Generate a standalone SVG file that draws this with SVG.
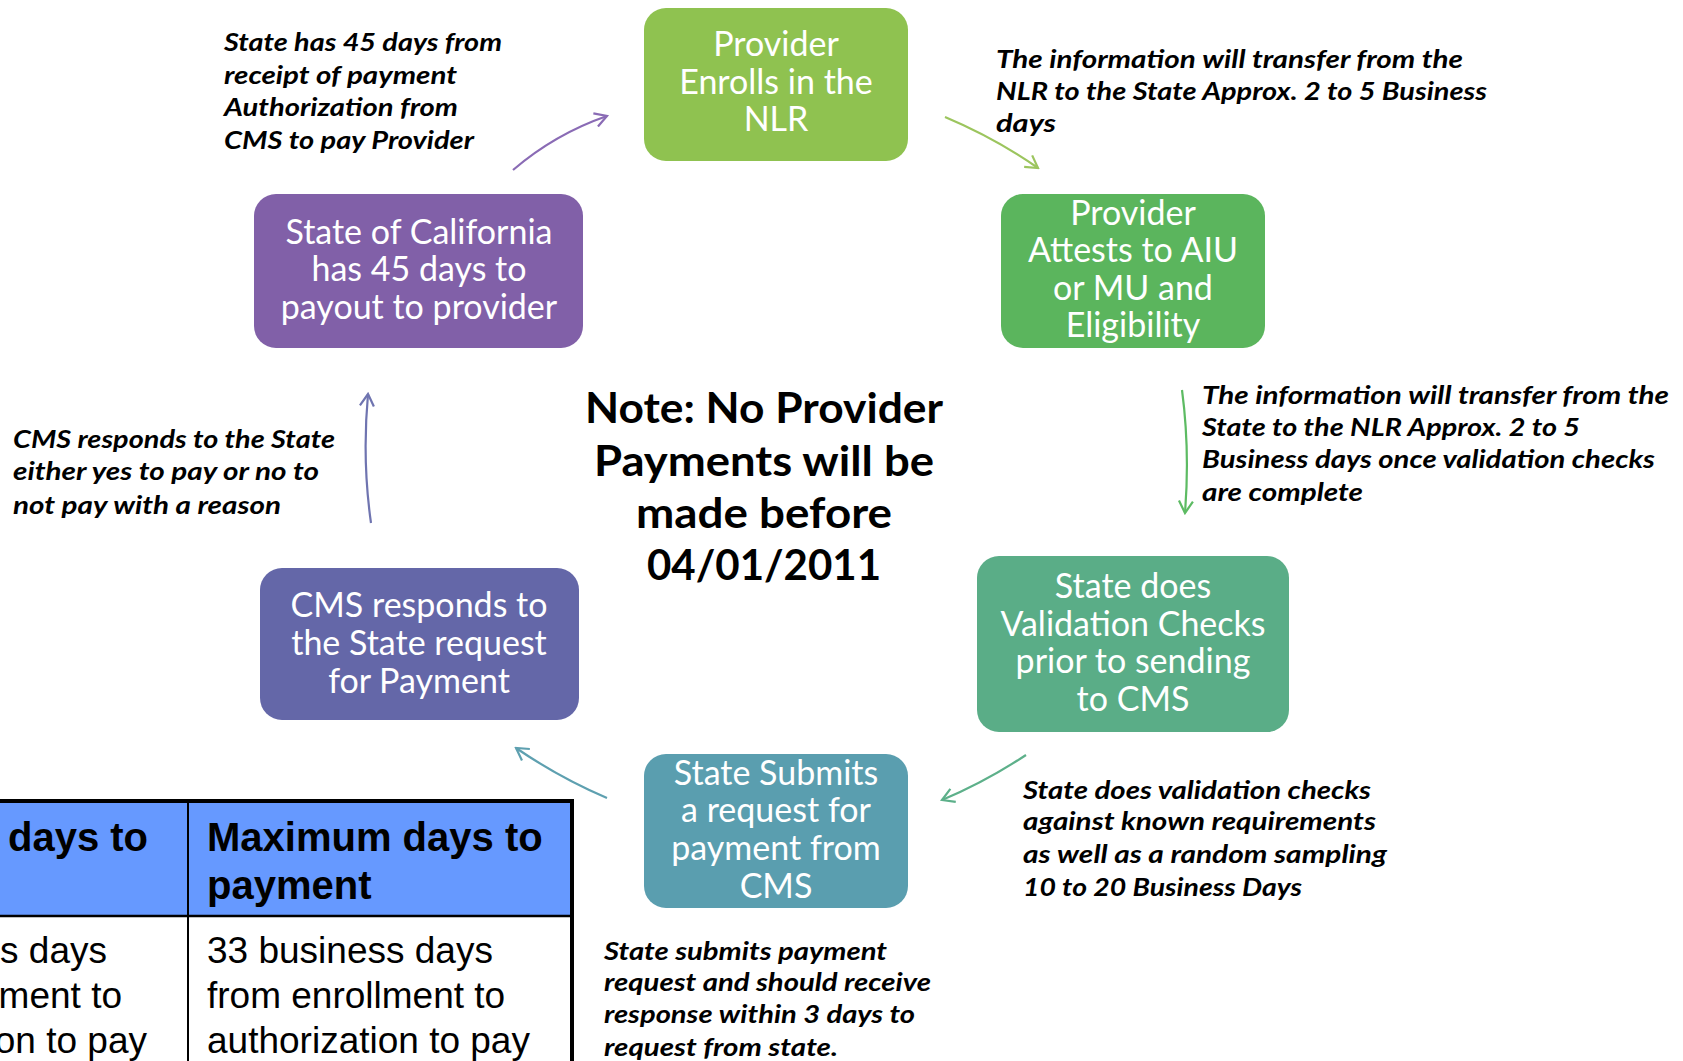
<svg xmlns="http://www.w3.org/2000/svg" width="1683" height="1061" viewBox="0 0 1683 1061">
  <style>
    .node-text { font-family: Lato, "Open Sans", sans-serif; font-size: 34px; fill: #ffffff; text-anchor: middle; }
    .note { font-family: Lato, "Open Sans", sans-serif; font-size: 42px; font-weight: bold; fill: #000000; text-anchor: middle; }
    .ann { font-family: Lato, "Open Sans", sans-serif; font-size: 25px; font-weight: bold; font-style: italic; fill: #000000; }
    .th { font-family: "Liberation Sans", Arial, sans-serif; font-size: 40px; font-weight: bold; fill: #000000; }
    .td { font-family: "Liberation Sans", Arial, sans-serif; font-size: 37px; fill: #000000; }
    .conn { fill: none; stroke-width: 2.2; }
  </style>
  <defs>
    <marker id="ah-purple" markerWidth="16" markerHeight="16" refX="14" refY="8" orient="auto" markerUnits="userSpaceOnUse">
      <path d="M2,1 L14,8 L2,15" fill="none" stroke="#8a6bb5" stroke-width="2.2"/>
    </marker>
    <marker id="ah-lime" markerWidth="16" markerHeight="16" refX="14" refY="8" orient="auto" markerUnits="userSpaceOnUse">
      <path d="M2,1 L14,8 L2,15" fill="none" stroke="#9cc55e" stroke-width="2.2"/>
    </marker>
    <marker id="ah-green" markerWidth="16" markerHeight="16" refX="14" refY="8" orient="auto" markerUnits="userSpaceOnUse">
      <path d="M2,1 L14,8 L2,15" fill="none" stroke="#5dbb63" stroke-width="2.2"/>
    </marker>
    <marker id="ah-seafoam" markerWidth="16" markerHeight="16" refX="14" refY="8" orient="auto" markerUnits="userSpaceOnUse">
      <path d="M2,1 L14,8 L2,15" fill="none" stroke="#5db08a" stroke-width="2.2"/>
    </marker>
    <marker id="ah-teal" markerWidth="16" markerHeight="16" refX="14" refY="8" orient="auto" markerUnits="userSpaceOnUse">
      <path d="M2,1 L14,8 L2,15" fill="none" stroke="#5ea0b0" stroke-width="2.2"/>
    </marker>
    <marker id="ah-indigo" markerWidth="16" markerHeight="16" refX="14" refY="8" orient="auto" markerUnits="userSpaceOnUse">
      <path d="M2,1 L14,8 L2,15" fill="none" stroke="#6f74b0" stroke-width="2.2"/>
    </marker>
  </defs>

  <rect width="1683" height="1061" fill="#ffffff"/>

  <!-- process steps -->
  <g id="node-enroll">
    <rect x="644" y="8" width="264" height="153" rx="22" fill="#8fc250"/>
    <text class="node-text" x="776" y="56">Provider</text>
    <text class="node-text" x="776" y="94">Enrolls in the</text>
    <text class="node-text" x="776" y="131">NLR</text>
  </g>
  <g id="node-attest">
    <rect x="1001" y="194" width="264" height="154" rx="22" fill="#5bb55d"/>
    <text class="node-text" x="1133" y="225">Provider</text>
    <text class="node-text" x="1133" y="262">Attests to AIU</text>
    <text class="node-text" x="1133" y="300">or MU and</text>
    <text class="node-text" x="1133" y="337">Eligibility</text>
  </g>
  <g id="node-validate">
    <rect x="977" y="556" width="312" height="176" rx="22" fill="#5aad87"/>
    <text class="node-text" x="1133" y="598">State does</text>
    <text class="node-text" x="1133" y="636">Validation Checks</text>
    <text class="node-text" x="1133" y="673">prior to sending</text>
    <text class="node-text" x="1133" y="711">to CMS</text>
  </g>
  <g id="node-submit">
    <rect x="644" y="754" width="264" height="154" rx="22" fill="#5a9eaf"/>
    <text class="node-text" x="776" y="785">State Submits</text>
    <text class="node-text" x="776" y="822">a request for</text>
    <text class="node-text" x="776" y="860">payment from</text>
    <text class="node-text" x="776" y="898">CMS</text>
  </g>
  <g id="node-cms">
    <rect x="260" y="568" width="319" height="152" rx="22" fill="#6467a8"/>
    <text class="node-text" x="419" y="617">CMS responds  to</text>
    <text class="node-text" x="419" y="655">the State request</text>
    <text class="node-text" x="419" y="693">for Payment</text>
  </g>
  <g id="node-payout">
    <rect x="254" y="194" width="329" height="154" rx="22" fill="#8160a8"/>
    <text class="node-text" x="419" y="244">State of California</text>
    <text class="node-text" x="419" y="281">has 45 days to</text>
    <text class="node-text" x="419" y="319">payout to provider</text>
  </g>

  <!-- connectors -->
  <g id="connectors">
    <path class="conn" d="M513,170 Q555,134 607,116" stroke="#8a6bb5" marker-end="url(#ah-purple)"/>
    <path class="conn" d="M945,117 Q995,138 1038,168" stroke="#9cc55e" marker-end="url(#ah-lime)"/>
    <path class="conn" d="M1182,390 Q1190,450 1185,513" stroke="#5dbb63" marker-end="url(#ah-green)"/>
    <path class="conn" d="M1026,755 Q985,782 942,800" stroke="#5db08a" marker-end="url(#ah-seafoam)"/>
    <path class="conn" d="M607,798 Q560,778 516,748" stroke="#5ea0b0" marker-end="url(#ah-teal)"/>
    <path class="conn" d="M371,523 Q362,460 368,394" stroke="#6f74b0" marker-end="url(#ah-indigo)"/>
  </g>

  <!-- annotations -->
  <g id="note">
    <text class="note" x="764" y="423" textLength="358" lengthAdjust="spacingAndGlyphs">Note: No Provider</text>
    <text class="note" x="764" y="476" textLength="340" lengthAdjust="spacingAndGlyphs">Payments will be</text>
    <text class="note" x="764" y="528" textLength="256" lengthAdjust="spacingAndGlyphs">made before</text>
    <text class="note" x="764" y="580" textLength="234" lengthAdjust="spacingAndGlyphs">04/01/2011</text>
  </g>
  <g id="label-payout">
    <text class="ann" x="224" y="51" textLength="278" lengthAdjust="spacingAndGlyphs">State has 45 days from</text>
    <text class="ann" x="224" y="84" textLength="233" lengthAdjust="spacingAndGlyphs">receipt of payment</text>
    <text class="ann" x="224" y="116" textLength="234" lengthAdjust="spacingAndGlyphs">Authorization from</text>
    <text class="ann" x="224" y="149" textLength="250" lengthAdjust="spacingAndGlyphs">CMS to pay Provider</text>
  </g>
  <g id="label-nlr-state">
    <text class="ann" x="996" y="68" textLength="467" lengthAdjust="spacingAndGlyphs">The information will transfer from the</text>
    <text class="ann" x="996" y="100" textLength="491" lengthAdjust="spacingAndGlyphs">NLR to the State Approx. 2 to 5 Business</text>
    <text class="ann" x="996" y="132" textLength="60" lengthAdjust="spacingAndGlyphs">days</text>
  </g>
  <g id="label-state-nlr">
    <text class="ann" x="1202" y="404" textLength="467" lengthAdjust="spacingAndGlyphs">The information will transfer from the</text>
    <text class="ann" x="1202" y="436" textLength="378" lengthAdjust="spacingAndGlyphs">State to the NLR Approx. 2 to 5</text>
    <text class="ann" x="1202" y="468" textLength="453" lengthAdjust="spacingAndGlyphs">Business days once validation checks</text>
    <text class="ann" x="1202" y="501" textLength="161" lengthAdjust="spacingAndGlyphs">are complete</text>
  </g>
  <g id="label-cms-response">
    <text class="ann" x="13" y="448" textLength="322" lengthAdjust="spacingAndGlyphs">CMS responds to the State</text>
    <text class="ann" x="13" y="480" textLength="306" lengthAdjust="spacingAndGlyphs">either yes to pay or no to</text>
    <text class="ann" x="13" y="514" textLength="268" lengthAdjust="spacingAndGlyphs">not pay with a reason</text>
  </g>
  <g id="label-validation">
    <text class="ann" x="1023" y="799" textLength="348" lengthAdjust="spacingAndGlyphs">State does validation checks</text>
    <text class="ann" x="1023" y="830" textLength="353" lengthAdjust="spacingAndGlyphs">against known requirements</text>
    <text class="ann" x="1023" y="863" textLength="364" lengthAdjust="spacingAndGlyphs">as well as a random sampling</text>
    <text class="ann" x="1023" y="896" textLength="279" lengthAdjust="spacingAndGlyphs">10 to  20 Business Days</text>
  </g>
  <g id="label-submit">
    <text class="ann" x="604" y="960" textLength="283" lengthAdjust="spacingAndGlyphs">State submits payment</text>
    <text class="ann" x="604" y="991" textLength="327" lengthAdjust="spacingAndGlyphs">request and should receive</text>
    <text class="ann" x="604" y="1023" textLength="311" lengthAdjust="spacingAndGlyphs">response within 3 days to</text>
    <text class="ann" x="604" y="1056" textLength="234" lengthAdjust="spacingAndGlyphs">request from state.</text>
  </g>

  <!-- timing table -->
  <g id="timing-table">
    <rect x="-10" y="801" width="582" height="115" fill="#6699ff"/>
    <rect x="-10" y="916" width="582" height="160" fill="#ffffff"/>
    <line x1="188" y1="801" x2="188" y2="1070" stroke="#000000" stroke-width="2"/>
    <line x1="-10" y1="916" x2="572" y2="916" stroke="#000000" stroke-width="2.5"/>
    <rect x="-10" y="801" width="582" height="280" fill="none" stroke="#000000" stroke-width="4"/>
    <text class="th" x="148" y="851" text-anchor="end">days to</text>
    <text class="th" x="207" y="851">Maximum days to</text>
    <text class="th" x="207" y="899">payment</text>
    <text class="td" x="107" y="963" text-anchor="end">s days</text>
    <text class="td" x="122" y="1008" text-anchor="end">ment to</text>
    <text class="td" x="147" y="1053" text-anchor="end">on to pay</text>
    <text class="td" x="207" y="963">33 business days</text>
    <text class="td" x="207" y="1008">from enrollment to</text>
    <text class="td" x="207" y="1053">authorization to pay</text>
  </g>
</svg>
